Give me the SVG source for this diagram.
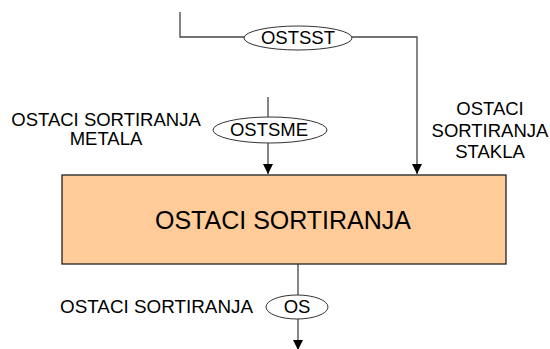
<svg xmlns="http://www.w3.org/2000/svg" width="550" height="349" viewBox="0 0 550 349">
<style>
text{font-family:"Liberation Sans",Arial,sans-serif;fill:#000}
.lbl{font-size:18.5px}
.conn{fill:none;stroke:#444;stroke-width:1.3}
.tag{fill:#fff;stroke:#333;stroke-width:1}
</style>
<defs>
<marker id="ah" viewBox="0 0 10 10" refX="10" refY="5" markerWidth="10" markerHeight="10" markerUnits="userSpaceOnUse" orient="auto">
<path d="M0,0L10,5L0,10z" fill="#000"/>
</marker>
</defs>
<rect width="550" height="349" fill="#fff"/>
<g id="connectors">
<path class="conn" d="M180,12V37H417V174" marker-end="url(#ah)"/>
<path class="conn" d="M268,97V174" marker-end="url(#ah)"/>
<path class="conn" d="M298,264V350" marker-end="url(#ah)"/>
</g>
<g id="node-main">
<rect x="62" y="175" width="444" height="89" fill="#FFCC99" stroke="#222" stroke-width="1.3"/>
<text x="283" y="229" font-size="25" text-anchor="middle">OSTACI SORTIRANJA</text>
</g>
<g id="tag-ostsst">
<ellipse class="tag" cx="298" cy="38" rx="54" ry="12"/>
<text class="lbl" x="298" y="44" text-anchor="middle">OSTSST</text>
</g>
<g id="tag-ostsme">
<ellipse class="tag" cx="270" cy="130" rx="57" ry="13"/>
<text class="lbl" x="269" y="136" text-anchor="middle">OSTSME</text>
</g>
<g id="tag-os">
<ellipse class="tag" cx="297" cy="307" rx="31" ry="12"/>
<text class="lbl" x="297" y="313" text-anchor="middle">OS</text>
</g>
<g id="label-metala">
<text class="lbl" x="106" y="126" text-anchor="middle">OSTACI SORTIRANJA</text>
<text class="lbl" x="106" y="145" text-anchor="middle">METALA</text>
</g>
<g id="label-stakla">
<text class="lbl" x="490" y="115" text-anchor="middle">OSTACI</text>
<text class="lbl" x="490" y="137" text-anchor="middle">SORTIRANJA</text>
<text class="lbl" x="490" y="158" text-anchor="middle">STAKLA</text>
</g>
<g id="label-os">
<text class="lbl" x="60" y="313" textLength="193" lengthAdjust="spacingAndGlyphs">OSTACI SORTIRANJA</text>
</g>
</svg>
